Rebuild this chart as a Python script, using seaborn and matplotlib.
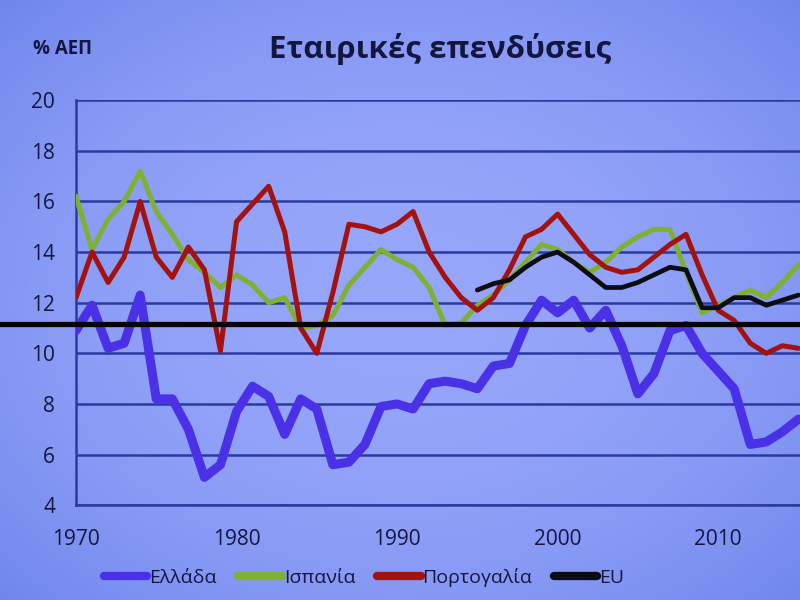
import numpy as np
import pandas as pd
import matplotlib
matplotlib.use("Agg")
import matplotlib.pyplot as plt
import seaborn as sns

# ---------------- data ----------------
years = list(range(1970, 2016))
greece = [10.9, 11.9, 10.2, 10.4, 12.3, 8.2, 8.2, 7.0, 5.1, 5.6,
          7.7, 8.7, 8.3, 6.8, 8.2, 7.8, 5.6, 5.7, 6.4, 7.9,
          8.0, 7.8, 8.8, 8.9, 8.8, 8.6, 9.5, 9.6, 11.1, 12.1,
          11.6, 12.1, 11.0, 11.7, 10.3, 8.4, 9.2, 10.9, 11.1, 10.0,
          9.3, 8.6, 6.4, 6.5, 6.9, 7.4]
spain = [16.2, 14.1, 15.3, 16.0, 17.2, 15.6, 14.7, 13.7, 13.2, 12.6,
         13.1, 12.7, 12.0, 12.2, 11.0, 11.1, 11.5, 12.7, 13.4, 14.1,
         13.7, 13.4, 12.6, 11.1, 11.2, 11.9, 12.3, 12.9, 13.6, 14.3,
         14.1, 13.6, 13.2, 13.6, 14.2, 14.6, 14.9, 14.9, 13.2, 11.6,
         11.9, 12.2, 12.5, 12.2, 12.8, 13.5]
portugal = [12.2, 14.0, 12.8, 13.8, 16.0, 13.8, 13.0, 14.2, 13.3, 10.1,
            15.2, 15.9, 16.6, 14.8, 11.0, 10.0, 12.4, 15.1, 15.0, 14.8,
            15.1, 15.6, 14.0, 13.0, 12.2, 11.7, 12.2, 13.3, 14.6, 14.9,
            15.5, 14.7, 13.9, 13.4, 13.2, 13.3, 13.8, 14.3, 14.7, 13.1,
            11.7, 11.3, 10.4, 10.0, 10.3, 10.2]
eu_years = list(range(1995, 2016))
eu = [12.5, 12.75, 12.9, 13.4, 13.8, 14.0, 13.6, 13.1, 12.6, 12.6,
      12.8, 13.1, 13.4, 13.3, 11.8, 11.8, 12.2, 12.2, 11.9, 12.1, 12.3]
reference_level = 11.15

series_names = ["Ελλάδα", "Ισπανία", "Πορτογαλία", "EU"]
y_ticks = [4, 6, 8, 10, 12, 14, 16, 18, 20]
x_ticks = [1970, 1980, 1990, 2000, 2010]
title = "Εταιρικές επενδύσεις"
unit_label = "% ΑΕΠ"

df = pd.concat([
    pd.DataFrame({"year": years, "value": greece, "series": series_names[0]}),
    pd.DataFrame({"year": years, "value": spain, "series": series_names[1]}),
    pd.DataFrame({"year": years, "value": portugal, "series": series_names[2]}),
    pd.DataFrame({"year": eu_years, "value": eu, "series": series_names[3]}),
], ignore_index=True)

# ---------------- style ----------------
sns.set_style("white")
plt.rcParams["font.family"] = ["Open Sans", "DejaVu Sans"]

colors = {"Ελλάδα": "#4a30e6", "Ισπανία": "#80b032",
          "Πορτογαλία": "#a3120f", "EU": "#0c0c14"}
widths = {"Ελλάδα": 6.5, "Ισπανία": 3.6, "Πορτογαλία": 3.6, "EU": 3.4}
text_color = "#141640"
grid_color = "#2b3a9e"

fig = plt.figure(figsize=(8, 6), dpi=100)

# background with a slight vignette (projected slide)
bg = fig.add_axes([0, 0, 1, 1], zorder=-10)
h, w = 120, 160
yy, xx = np.mgrid[0:h, 0:w]
r = np.sqrt(((xx / w) - 0.5) ** 2 + ((yy / h) - 0.5) ** 2)
t = np.clip(r / 0.8, 0, 1) ** 2.2
center_c = np.array([150, 166, 250]) / 255
edge_c = np.array([100, 124, 232]) / 255
img = center_c[None, None, :] * (1 - t[..., None]) + edge_c[None, None, :] * t[..., None]
bg.imshow(img, aspect="auto", extent=[0, 1, 0, 1], interpolation="bilinear")
bg.axis("off")

ax = fig.add_axes([0.095, 0.158, 0.905, 0.675])
ax.patch.set_alpha(0)

for name in series_names:
    sub = df[df["series"] == name]
    sns.lineplot(data=sub, x="year", y="value", ax=ax, color=colors[name],
                 linewidth=widths[name], label=name, solid_capstyle="round",
                 solid_joinstyle="round", zorder=3)

# horizontal reference line extending beyond the axis to the left
ax.plot([-0.15, 1.0], [reference_level, reference_level],
        transform=ax.get_yaxis_transform(), color="#050508",
        linewidth=3.8, clip_on=False, zorder=4)

ax.set_xlim(1970, 2015.1)
ax.set_ylim(4, 20)
ax.set_yticks(y_ticks)
ax.set_xticks(x_ticks)
ax.set_xlabel("")
ax.set_ylabel("")

ax.yaxis.grid(True, color=grid_color, linewidth=1.8, zorder=0)
ax.xaxis.grid(False)
ax.set_axisbelow(True)
for s in ["top", "right"]:
    ax.spines[s].set_visible(False)
for s in ["left", "bottom"]:
    ax.spines[s].set_color(grid_color)
    ax.spines[s].set_linewidth(1.8)

ax.tick_params(axis="both", colors=text_color, labelsize=15, length=7,
               width=1.5, direction="out")
ax.tick_params(axis="y", color=grid_color, pad=8)
ax.tick_params(axis="x", color=grid_color, pad=10)

leg = ax.legend(loc="center", bbox_to_anchor=(0.455, 0.037),
                bbox_transform=fig.transFigure, ncol=4, frameon=False,
                fontsize=14, handlelength=2.25, handletextpad=0.1,
                columnspacing=1.1, labelcolor=text_color)
for line in leg.get_lines():
    line.set_linewidth(6)
    line.set_solid_capstyle("round")

fig.text(0.55, 0.918, title, ha="center", va="center", fontsize=22.5,
         fontweight="bold", color=text_color)
fig.text(0.078, 0.918, unit_label, ha="center", va="center", fontsize=13.5,
         fontweight="bold", color=text_color)

fig.savefig("out.png", dpi=100)
